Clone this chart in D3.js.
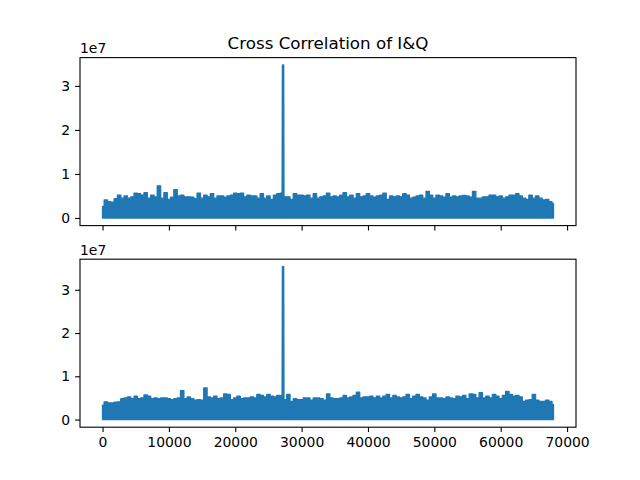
<!DOCTYPE html>
<html lang="en">
<head>
<meta charset="UTF-8">
<title>Cross Correlation of I&amp;Q</title>
<script src="https://d3js.org/d3.v7.min.js"></script>
<style>
  body { margin: 0; background: #fff; }
  svg { display: block; font-family: "DejaVu Sans", sans-serif; }
  .tick text { font-size: 13.9px; fill: #000; font-family: "DejaVu Sans", sans-serif; }
  .tick line { stroke: #000; stroke-width: 1.1; }
  .domain { display: none; }
</style>
</head>
<body>
<svg width="640" height="480"></svg>
<script>
const title = "Cross Correlation of I&Q";
const offsetLabel = "1e7";
const sampleStep = 500;      // envelope read every 500 samples
const lastSample = 67950;
const xTicks = [0, 10000, 20000, 30000, 40000, 50000, 60000, 70000];
const yTicks = [0, 1e7, 2e7, 3e7];
const yTickLabels = ["0", "1", "2", "3"];

// upper edge of the dense band, in millions
const topEnvelope = [
  2.6, 4.1, 3.7, 3.6, 4.4, 5.2, 4.5, 5.0, 4.5, 4.8,
  5.6, 5.5, 5.2, 5.75, 4.5, 5.2, 4.8, 7.3, 4.5, 5.75,
  4.2, 4.7, 6.4, 5.0, 5.2, 4.8, 4.8, 4.7, 4.4, 5.6,
  4.5, 5.2, 4.8, 5.5, 4.5, 5.0, 5.0, 4.7, 5.0, 5.2,
  5.6, 5.5, 5.6, 4.8, 5.2, 5.0, 5.0, 4.5, 5.5, 4.5,
  5.0, 4.2, 5.2, 5.5, 5.6, 4.8, 4.8, 4.2, 5.5, 5.2,
  5.2, 5.0, 5.2, 4.5, 5.5, 4.5, 4.8, 5.0, 5.6, 4.8,
  5.0, 4.8, 5.2, 5.75, 4.8, 5.2, 4.5, 5.5, 4.8, 5.0,
  5.5, 5.0, 4.7, 5.0, 5.2, 5.6, 4.2, 5.0, 4.8, 5.0,
  4.8, 5.5, 5.2, 4.5, 4.7, 5.0, 5.2, 4.5, 6.0, 5.2,
  4.5, 5.2, 5.0, 4.7, 5.5, 4.7, 5.0, 4.8, 5.0, 5.1,
  5.0, 4.7, 6.0, 4.5, 4.5, 4.8, 4.8, 5.2, 5.2, 4.8,
  5.0, 4.5, 4.8, 5.2, 5.2, 5.5, 5.0, 4.5, 4.2, 5.2,
  4.5, 5.0, 4.5, 4.1, 4.2, 3.7, 3.3
];
const bottomEnvelope = [
  3.3, 4.1, 3.85, 3.85, 4.0, 4.1, 4.8, 5.0, 5.2, 4.8,
  5.4, 4.8, 5.0, 5.7, 5.4, 4.8, 5.0, 4.8, 5.0, 5.0,
  4.8, 4.6, 4.8, 5.0, 6.7, 4.8, 5.2, 4.8, 4.5, 4.6,
  4.5, 7.3, 5.2, 5.0, 5.4, 4.8, 5.0, 5.9, 5.8, 4.6,
  5.0, 5.4, 4.8, 5.0, 5.0, 5.2, 5.0, 5.8, 5.6, 5.2,
  5.8, 5.4, 5.2, 5.6, 5.5, 4.6, 5.8, 4.2, 4.8, 4.6,
  4.6, 5.0, 5.0, 4.5, 5.0, 5.0, 4.8, 4.5, 5.9, 5.0,
  4.8, 4.8, 5.0, 5.6, 5.0, 5.2, 5.6, 6.3, 5.0, 5.2,
  5.2, 5.4, 5.0, 5.4, 5.0, 5.4, 5.8, 5.0, 5.6, 5.2,
  5.0, 5.2, 5.8, 4.8, 5.4, 5.8, 5.2, 5.0, 4.5, 5.2,
  5.9, 5.0, 5.0, 4.8, 5.2, 5.0, 4.8, 5.4, 5.2, 5.6,
  4.8, 5.9, 5.8, 5.0, 6.2, 5.0, 5.4, 5.0, 5.8, 5.4,
  4.8, 5.6, 6.5, 5.8, 5.4, 5.6, 5.2, 4.2, 4.5, 4.6,
  5.8, 4.5, 4.2, 4.2, 4.5, 4.2, 3.5
];
const topPeak = { x: 27200, value: 34.7e6 };
const bottomPeak = { x: 27200, value: 35.3e6 };

const lineColor = "#1f77b4";
const axLeft = 80, axWidth = 496, axHeight = 168;

const svg = d3.select("svg");

const x = d3.scaleLinear()
    .domain([-0.05 * lastSample, 1.05 * lastSample])
    .range([0, axWidth]);

function drawPanel(top, envelope, peak, showXLabels) {
    const g = svg.append("g").attr("transform", "translate(" + axLeft + "," + top + ")");

    const pts = envelope.map(function(v, i) {
        return [Math.min(i * sampleStep, lastSample), v * 1e6];
    });
    const maxV = Math.max(d3.max(pts, function(d) { return d[1]; }), peak.value);
    const pad = 0.05 * maxV;
    const y = d3.scaleLinear().domain([-pad, maxV + pad]).range([axHeight, 0]);

    const area = d3.area()
        .x(function(d) { return x(d[0]); })
        .y0(y(0))
        .y1(function(d) { return y(d[1]); })
        .curve(d3.curveStep);

    g.append("path")
        .datum(pts)
        .attr("d", area)
        .attr("fill", lineColor)
        .attr("stroke", lineColor)
        .attr("stroke-width", 1.4)
        .attr("stroke-linejoin", "round");

    // the single correlation peak, a few samples wide
    const spike = [[peak.x - 90, 0], [peak.x - 40, peak.value], [peak.x + 40, peak.value], [peak.x + 90, 0]];
    g.append("path")
        .datum(spike)
        .attr("d", d3.line().x(function(d) { return x(d[0]); }).y(function(d) { return y(d[1]); }))
        .attr("fill", lineColor)
        .attr("stroke", lineColor)
        .attr("stroke-width", 2.08)
        .attr("stroke-linejoin", "round");

    const xAxis = d3.axisBottom(x).tickValues(xTicks).tickSize(4.9).tickPadding(4.9);
    if (!showXLabels) xAxis.tickFormat("");
    else xAxis.tickFormat(d3.format("d"));
    g.append("g")
        .attr("transform", "translate(0," + axHeight + ")")
        .call(xAxis);

    g.append("g")
        .call(d3.axisLeft(y).tickValues(yTicks)
            .tickFormat(function(d, i) { return yTickLabels[i]; })
            .tickSize(4.9).tickPadding(4.9));

    g.append("rect")
        .attr("width", axWidth)
        .attr("height", axHeight)
        .attr("fill", "none")
        .attr("stroke", "#000")
        .attr("stroke-width", 1.1);

    g.append("text")
        .attr("x", 0)
        .attr("y", -4.6)
        .attr("font-size", 13.9)
        .text(offsetLabel);

    return g;
}

const topPanel = drawPanel(57.6, topEnvelope, topPeak, false);
drawPanel(259.2, bottomEnvelope, bottomPeak, true);

topPanel.append("text")
    .attr("x", axWidth / 2)
    .attr("y", -8.3)
    .attr("text-anchor", "middle")
    .attr("font-size", 16.7)
    .text(title);
</script>
</body>
</html>
